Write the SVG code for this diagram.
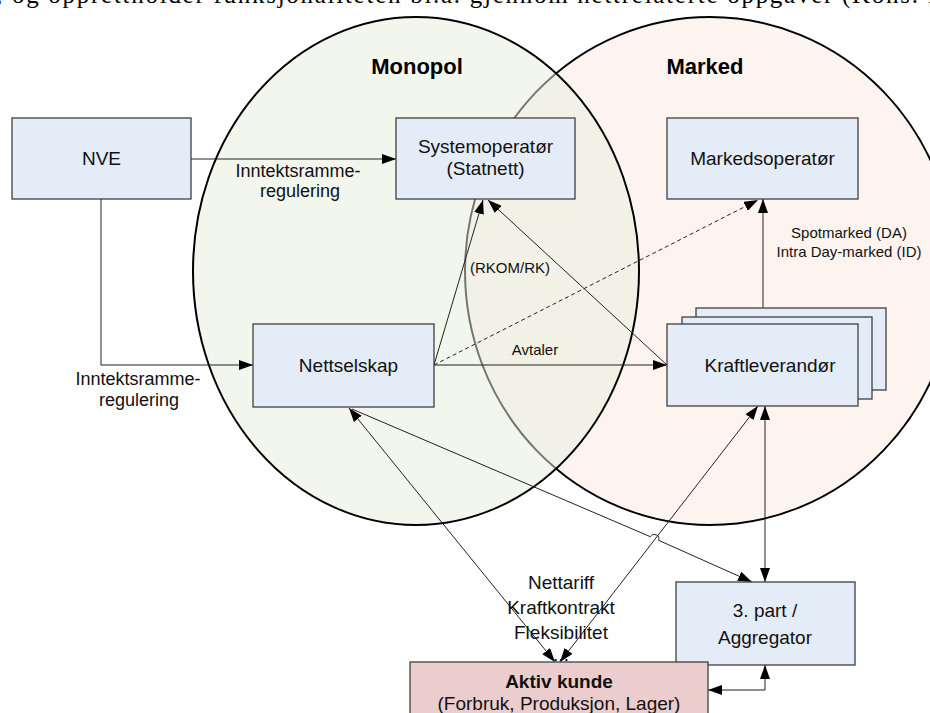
<svg xmlns="http://www.w3.org/2000/svg" width="930" height="713" viewBox="0 0 930 713">
  <defs>
    <marker id="arr" viewBox="0 0 14 10" refX="14" refY="5" markerWidth="14" markerHeight="10" markerUnits="userSpaceOnUse" orient="auto-start-reverse">
      <path d="M0,0 L14,5 L0,10 z" fill="#000"/>
    </marker>
    <style>
      .box { fill: #E4ECF7; stroke: #404040; stroke-width: 1.3; }
      .lbl { font-family: "Liberation Sans", Arial, sans-serif; font-size: 19px; fill: #111; text-anchor: middle; }
      .small { font-family: "Liberation Sans", Arial, sans-serif; font-size: 15px; fill: #111; text-anchor: middle; }
      .mid { font-family: "Liberation Sans", Arial, sans-serif; font-size: 18px; fill: #111; text-anchor: middle; }
      .head { font-family: "Liberation Sans", Arial, sans-serif; font-size: 22px; font-weight: bold; fill: #000; text-anchor: middle; }
      .ln { fill: none; stroke: #222; stroke-width: 1; }
    </style>
  </defs>

  <rect width="930" height="713" fill="#fff"/>

  <!-- running body text cut off at the top edge -->
  <text x="-4" y="3" font-family="'Liberation Serif', 'Times New Roman', serif" font-size="25" fill="#000" textLength="940">, og opprettholder funksjonaliteten bl.a. gjennom nettrelaterte oppgaver (Kons. f</text>

  <!-- domains -->
  <g id="marked">
    <ellipse cx="710" cy="271" rx="245" ry="254" fill="#FDF4F0" stroke="#000" stroke-width="2"/>
    <text class="head" x="705" y="74">Marked</text>
  </g>
  <g id="monopol">
    <ellipse cx="416" cy="271" rx="223" ry="254" fill="rgb(231,237,217)" fill-opacity="0.5" stroke="#000" stroke-width="2"/>
    <text class="head" x="417" y="74">Monopol</text>
  </g>

  <!-- connectors -->
  <g id="connectors">
    <!-- NVE to Systemoperatør -->
    <line class="ln" x1="191" y1="159" x2="396" y2="159" marker-end="url(#arr)"/>
    <!-- NVE to Nettselskap -->
    <polyline class="ln" points="101,199 101,365 253,365" marker-end="url(#arr)"/>
    <!-- Nettselskap to Systemoperatør -->
    <line class="ln" x1="434" y1="365" x2="483" y2="200" marker-end="url(#arr)"/>
    <!-- Kraftleverandør to Systemoperatør -->
    <line class="ln" x1="667" y1="365" x2="488" y2="200" marker-end="url(#arr)"/>
    <!-- Nettselskap to Markedsoperatør (dashed) -->
    <line class="ln" x1="434" y1="365" x2="758" y2="200" stroke-dasharray="4,3" marker-end="url(#arr)"/>
    <!-- Avtaler -->
    <line class="ln" x1="434" y1="365" x2="667" y2="365" marker-end="url(#arr)"/>
    <!-- Kraftleverandør to Markedsoperatør -->
    <line class="ln" x1="763" y1="308" x2="763" y2="199" marker-end="url(#arr)"/>
    <!-- Nettselskap / Aktiv kunde -->
    <line class="ln" x1="349" y1="408" x2="555" y2="662" marker-start="url(#arr)" marker-end="url(#arr)"/>
    <!-- Kraftleverandør / Aktiv kunde -->
    <line class="ln" x1="758" y1="406" x2="560" y2="662" marker-start="url(#arr)" marker-end="url(#arr)"/>
    <!-- Nettselskap to Aggregator, hopping over the line above -->
    <path class="ln" d="M352,409 L650.4,536.7 A4.5,4.5 0 0 1 658.6,540.3 L752,582" marker-end="url(#arr)"/>
    <!-- Kraftleverandør / Aggregator -->
    <line class="ln" x1="765" y1="406" x2="765" y2="582" marker-start="url(#arr)" marker-end="url(#arr)"/>
    <!-- Aggregator / Aktiv kunde -->
    <polyline class="ln" points="765,665 765,690 708,690" marker-start="url(#arr)" marker-end="url(#arr)"/>
  </g>

  <!-- connector labels -->
  <g id="labels">
    <text class="mid" x="298" y="177">Inntektsramme-</text>
    <text class="mid" x="300" y="197">regulering</text>
    <text class="mid" x="138" y="385">Inntektsramme-</text>
    <text class="mid" x="139" y="406">regulering</text>
    <text class="small" x="510" y="273">(RKOM/RK)</text>
    <text class="small" x="535" y="355">Avtaler</text>
    <text class="small" x="849" y="238">Spotmarked (DA)</text>
    <text class="small" x="849" y="257">Intra Day-marked (ID)</text>
    <text class="lbl" x="561" y="589">Nettariff</text>
    <text class="lbl" x="561" y="614">Kraftkontrakt</text>
    <text class="lbl" x="561" y="639">Fleksibilitet</text>
    <text class="lbl" x="561" y="661">...</text>
  </g>

  <!-- nodes -->
  <g id="nve">
    <rect class="box" x="12" y="118" width="179" height="81"/>
    <text class="lbl" x="101.5" y="165">NVE</text>
  </g>
  <g id="systemoperator">
    <rect class="box" x="396" y="118" width="179" height="81"/>
    <text class="lbl" x="485.5" y="153">Systemoperatør</text>
    <text class="lbl" x="485.5" y="175">(Statnett)</text>
  </g>
  <g id="markedsoperator">
    <rect class="box" x="667" y="118" width="191" height="81"/>
    <text class="lbl" x="762.5" y="165">Markedsoperatør</text>
  </g>
  <g id="nettselskap">
    <rect class="box" x="253" y="324" width="181" height="83"/>
    <text class="lbl" x="348.5" y="372">Nettselskap</text>
  </g>
  <g id="kraftleverandor">
    <rect class="box" x="696" y="308" width="190" height="82"/>
    <rect class="box" x="682" y="317" width="190" height="82"/>
    <rect class="box" x="667" y="324" width="191" height="82"/>
    <text class="lbl" x="770" y="372">Kraftleverandør</text>
  </g>
  <g id="aggregator">
    <rect class="box" x="676" y="582" width="179" height="83"/>
    <text class="lbl" x="765" y="617">3. part /</text>
    <text class="lbl" x="765" y="644">Aggregator</text>
  </g>
  <g id="aktiv-kunde">
    <rect x="410" y="662" width="298" height="60" fill="#EBCDCD" stroke="#404040" stroke-width="1.3"/>
    <text class="lbl" x="559" y="688" font-weight="bold">Aktiv kunde</text>
    <text class="lbl" x="559" y="710">(Forbruk, Produksjon, Lager)</text>
  </g>
</svg>
